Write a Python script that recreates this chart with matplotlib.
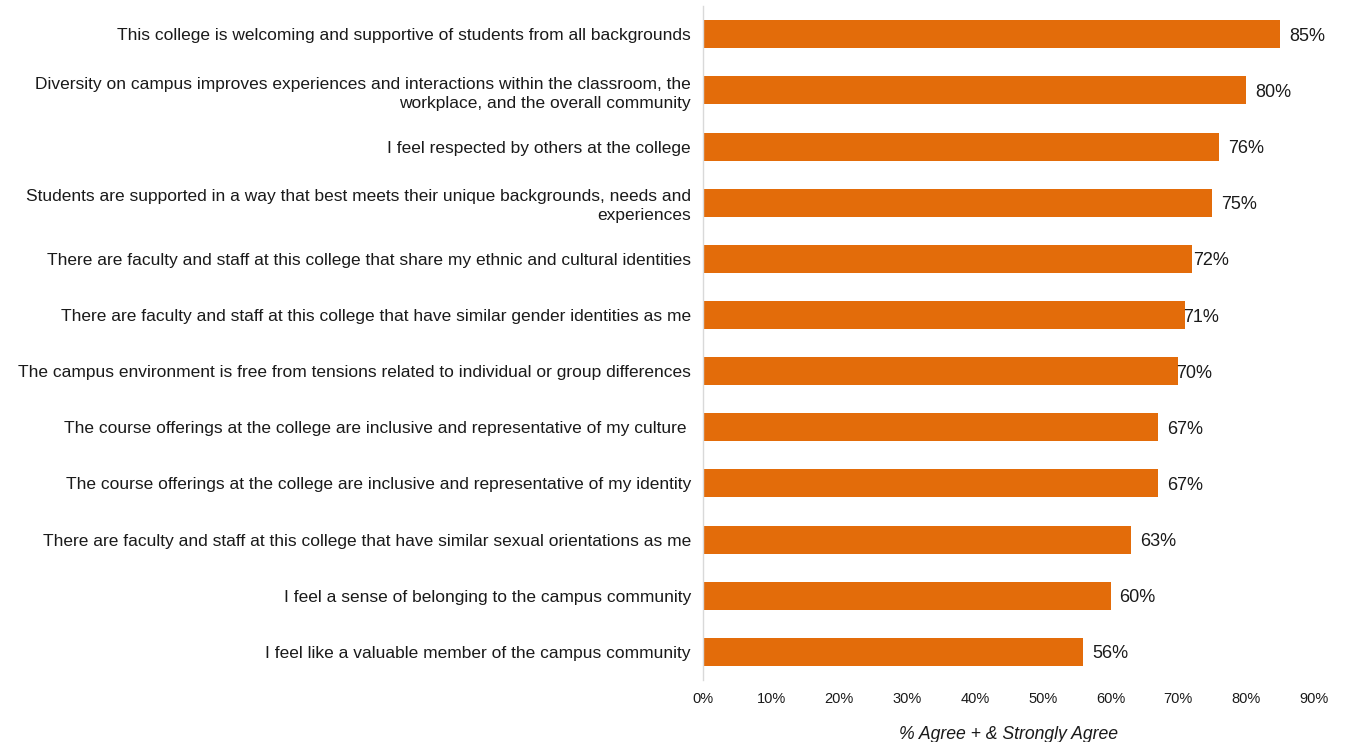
import matplotlib
matplotlib.use("Agg")
import matplotlib.pyplot as plt
from matplotlib.ticker import FuncFormatter, MultipleLocator

plt.rcParams["font.family"] = ["Liberation Sans", "DejaVu Sans"]

statements = [
    "This college is welcoming and supportive of students from all backgrounds",
    "Diversity on campus improves experiences and interactions within the classroom, the\nworkplace, and the overall community",
    "I feel respected by others at the college",
    "Students are supported in a way that best meets their unique backgrounds, needs and\nexperiences",
    "There are faculty and staff at this college that share my ethnic and cultural identities",
    "There are faculty and staff at this college that have similar gender identities as me",
    "The campus environment is free from tensions related to individual or group differences",
    "The course offerings at the college are inclusive and representative of my culture ",
    "The course offerings at the college are inclusive and representative of my identity",
    "There are faculty and staff at this college that have similar sexual orientations as me",
    "I feel a sense of belonging to the campus community",
    "I feel like a valuable member of the campus community",
]
pct_agree = [85, 80, 76, 75, 72, 71, 70, 67, 67, 63, 60, 56]

BAR_COLOR = "#E36C0A"
TEXT_COLOR = "#1a1a1a"

fig = plt.figure(figsize=(13.45, 7.42), dpi=100)
ax = fig.add_axes([0.523, 0.0836, 0.454, 0.908])

ypos = list(range(len(statements)))
ax.barh(ypos, pct_agree, height=0.5, color=BAR_COLOR, zorder=2)
ax.set_ylim(len(statements) - 0.5, -0.5)
ax.set_xlim(0, 90)

# value labels just past the bar ends (a few sit tight against their bars)
px = 72 / fig.dpi
label_shift_px = {4: 1, 5: -2, 6: -2}
for i, v in enumerate(pct_agree):
    dx = label_shift_px.get(i, 9) * px
    ax.annotate(f"{v}%", xy=(v, i), xytext=(dx, -2 * px), textcoords="offset points",
                ha="left", va="center", fontsize=13, color=TEXT_COLOR, zorder=3)

ax.set_yticks(ypos)
ax.set_yticklabels(statements, fontsize=12.5, color=TEXT_COLOR, ha="right",
                   multialignment="right", linespacing=1.3)
ax.tick_params(axis="y", length=0, pad=9)

ax.xaxis.set_major_locator(MultipleLocator(10))
ax.xaxis.set_major_formatter(FuncFormatter(lambda x, _: f"{x:.0f}%"))
ax.tick_params(axis="x", length=0, pad=9, labelsize=10.5, labelcolor=TEXT_COLOR)
ax.set_xlabel("% Agree + & Strongly Agree", fontsize=12.7, style="italic",
              color=TEXT_COLOR, labelpad=14)

for side in ("top", "right", "bottom"):
    ax.spines[side].set_visible(False)
ax.spines["left"].set_color("#d9d9d9")
ax.spines["left"].set_linewidth(1.0)

fig.savefig("out.png", dpi=100)
